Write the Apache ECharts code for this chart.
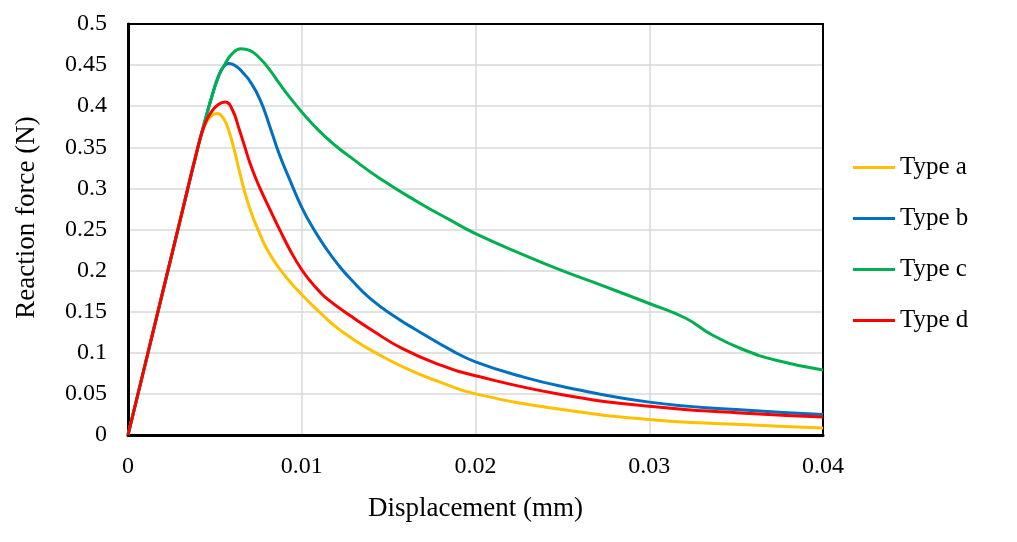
<!DOCTYPE html>
<html>
<head>
<meta charset="utf-8">
<script src="https://cdn.jsdelivr.net/npm/echarts@6/dist/echarts.min.js"></script>
<style>
html,body{margin:0;padding:0;background:#fff;}
#main{width:1017px;height:542px;}
</style>
</head>
<body>
<div id="main"></div>
<script>
//曲线数据 [位移(mm), 反力(N)]
var typeA=[
    [0,0],[0.001,0.087],[0.002,0.174],[0.003,0.261],[0.004,0.348],[0.0044,0.376],
    [0.0047,0.386],[0.0051,0.391],[0.0055,0.385],[0.0058,0.37],[0.0061,0.348],
    [0.0064,0.322],[0.0067,0.297],[0.0071,0.27],[0.0075,0.249],[0.008,0.226],
    [0.0087,0.203],[0.0095,0.182],[0.01,0.171],[0.0106,0.158],[0.0112,0.146],
    [0.012,0.131],[0.013,0.116],[0.014,0.103],[0.016,0.081],[0.018,0.064],
    [0.02,0.05],[0.025,0.031],[0.03,0.019],[0.035,0.013],[0.04,0.0085]
];
var typeB=[
    [0,0],[0.001,0.087],[0.002,0.174],[0.003,0.261],[0.004,0.348],[0.0044,0.38],
    [0.0048,0.41],[0.0052,0.436],[0.0055,0.448],[0.0058,0.452],[0.0062,0.449],
    [0.0066,0.441],[0.007,0.431],[0.0076,0.408],[0.0082,0.373],[0.0087,0.342],
    [0.0093,0.311],[0.01,0.277],[0.0107,0.25],[0.0114,0.227],[0.0121,0.207],
    [0.0128,0.19],[0.014,0.165],[0.0155,0.142],[0.0165,0.129],[0.0187,0.102],
    [0.02,0.089],[0.0225,0.072],[0.025,0.059],[0.03,0.04],[0.035,0.031],[0.04,0.025]
];
var typeC=[
    [0,0],[0.001,0.087],[0.002,0.174],[0.003,0.261],[0.004,0.348],[0.0044,0.38],
    [0.0048,0.41],[0.0052,0.436],[0.0056,0.452],[0.006,0.464],[0.0065,0.47],
    [0.007,0.468],[0.0076,0.458],[0.0082,0.443],[0.0087,0.428],[0.0093,0.411],
    [0.01,0.393],[0.011,0.37],[0.012,0.351],[0.0128,0.338],[0.0145,0.312],
    [0.0168,0.282],[0.0185,0.262],[0.02,0.245],[0.0229,0.218],[0.0248,0.2015],
    [0.0267,0.1865],[0.03,0.16],[0.0321,0.142],[0.0336,0.122],[0.0354,0.104],
    [0.0373,0.091],[0.04,0.079]
];
var typeD=[
    [0,0],[0.001,0.087],[0.002,0.174],[0.003,0.261],[0.004,0.348],[0.0044,0.377],
    [0.0048,0.393],[0.0052,0.402],[0.0056,0.405],[0.006,0.396],[0.0064,0.372],
    [0.0067,0.352],[0.0071,0.326],[0.0076,0.3],[0.0082,0.273],[0.0087,0.251],
    [0.0094,0.222],[0.01,0.201],[0.0105,0.187],[0.011,0.175],[0.0115,0.165],
    [0.0128,0.145],[0.014,0.128],[0.0158,0.105],[0.018,0.085],[0.02,0.072],
    [0.025,0.049],[0.03,0.035],[0.035,0.027],[0.04,0.022]
];
var seriesNames=["Type a","Type b","Type c","Type d"];
var seriesColors=["#FFC000","#0070C0","#00B050","#FF0000"];

var font="Liberation Serif";
var myChart=echarts.init(document.getElementById("main"));
var allData=[typeA,typeB,typeC,typeD];
var series=[];
for(var i=0;i<allData.length;i++){
    series.push({
        name:seriesNames[i],
        type:"line",
        data:allData[i],
        smooth:0.5,
        symbol:"none",
        lineStyle:{color:seriesColors[i],width:3},
        itemStyle:{color:seriesColors[i]}
    });
}
//上边框和右边框用空坐标轴画，避免被网格线盖住
var option={
    animation:false,
    backgroundColor:"#fff",
    grid:{
        left:128,
        top:24,
        right:194,
        bottom:107
    },
    legend:{
        orient:"vertical",
        left:848,
        top:150,
        icon:"rect",
        itemWidth:42,
        itemHeight:3,
        itemGap:26,
        data:seriesNames,
        textStyle:{fontFamily:font,fontSize:25,color:"#000"}
    },
    xAxis:[{
        type:"value",
        min:0,
        max:0.04,
        interval:0.01,
        name:"Displacement (mm)",
        nameLocation:"middle",
        nameGap:60,
        nameTextStyle:{fontFamily:font,fontSize:27,color:"#000"},
        axisLine:{show:true,lineStyle:{color:"#000",width:3}},
        axisTick:{show:false},
        axisLabel:{fontFamily:font,fontSize:24,color:"#000",margin:20},
        splitLine:{show:true,lineStyle:{color:"#d9d9d9",width:1.5}}
    },{
        type:"value",
        position:"top",
        min:0,
        max:0.04,
        axisLine:{show:true,onZero:false,lineStyle:{color:"#000",width:2}},
        axisTick:{show:false},
        axisLabel:{show:false},
        splitLine:{show:false}
    }],
    yAxis:[{
        type:"value",
        min:0,
        max:0.5,
        interval:0.05,
        name:"Reaction force (N)",
        nameLocation:"middle",
        nameGap:88,
        nameTextStyle:{fontFamily:font,fontSize:27,color:"#000",padding:[0,0,0,24]},
        axisLine:{show:true,lineStyle:{color:"#000",width:3}},
        axisTick:{show:false},
        axisLabel:{fontFamily:font,fontSize:24,color:"#000",margin:21},
        splitLine:{show:true,lineStyle:{color:"#d9d9d9",width:1.5}}
    },{
        type:"value",
        position:"right",
        min:0,
        max:0.5,
        axisLine:{show:true,onZero:false,lineStyle:{color:"#000",width:2}},
        axisTick:{show:false},
        axisLabel:{show:false},
        splitLine:{show:false}
    }],
    series:series
};
myChart.setOption(option);
</script>
</body>
</html>
